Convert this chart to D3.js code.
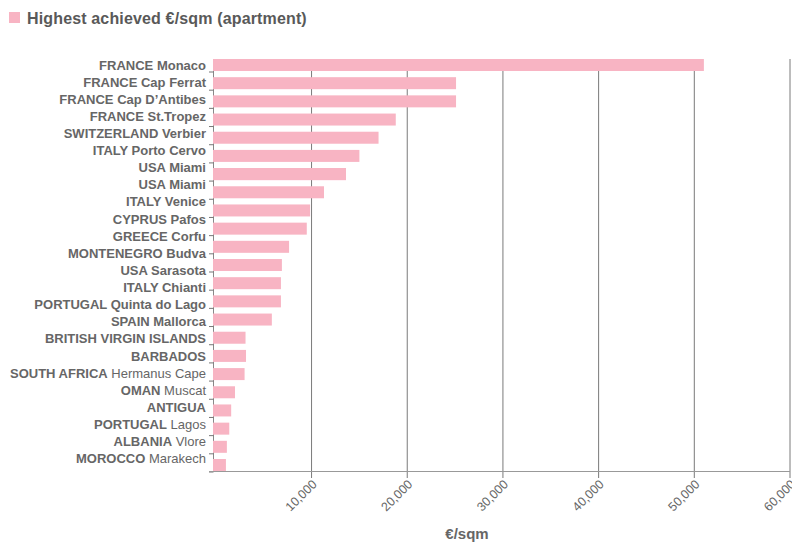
<!DOCTYPE html>
<html>
<head>
<meta charset="utf-8">
<script src="https://cdn.jsdelivr.net/npm/d3@7/dist/d3.min.js"></script>
<style>
  html, body { margin: 0; padding: 0; background: #fff; }
  svg { display: block; font-family: "Helvetica Neue", Helvetica, Arial, "Liberation Sans", sans-serif; }
</style>
</head>
<body>
<svg id="chart" width="792" height="542"></svg>
<script>
// ---- data ----
const countries = ["FRANCE", "FRANCE", "FRANCE", "FRANCE", "SWITZERLAND", "ITALY", "USA", "USA", "ITALY", "CYPRUS", "GREECE", "MONTENEGRO", "USA", "ITALY", "PORTUGAL", "SPAIN", "BRITISH VIRGIN ISLANDS", "BARBADOS", "SOUTH AFRICA", "OMAN", "ANTIGUA", "PORTUGAL", "ALBANIA", "MOROCCO"];
const places = ["Monaco", "Cap Ferrat", "Cap D\u2019Antibes", "St.Tropez", "Verbier", "Porto Cervo", "Miami", "Miami", "Venice", "Pafos", "Corfu", "Budva", "Sarasota", "Chianti", "Quinta do Lago", "Mallorca", "", "", "Hermanus Cape", "Muscat", "", "Lagos", "Vlore", "Marakech"];
const placeBold = [true, true, true, true, true, true, true, true, true, true, true, true, true, true, true, true, true, true, false, false, false, false, false, false];
const values = [51000, 25100, 25100, 18800, 17000, 15000, 13600, 13600, 11300, 9850, 9500, 7650, 6900, 6800, 6800, 5850, 3100, 3150, 3000, 2000, 1600, 1400, 1150, 1050];
const xTicks = [10000, 20000, 30000, 40000, 50000, 60000];
const seriesName = "Highest achieved \u20ac/sqm (apartment)";
const xTitle = "\u20ac/sqm";

// ---- setup ----
const names = countries.map((c, i) => places[i] ? c + " " + places[i] : c);
const data = names.map((n, i) => ({ name: n, country: countries[i], place: places[i], bold: placeBold[i], value: values[i], idx: i }));

const svg = d3.select("#chart");
const pink = "#f8b4c3";
const textGray = "#666";

const x = d3.scaleLinear().domain([-300, 60000]).range([213, 790]);
// band scale: duplicated names collapse into one band (as in the original)
const y = d3.scaleBand().domain(names).range([59, 471]).paddingInner(0.34).paddingOuter(0);
// labels are laid out on their own evenly spaced scale
const yLabel = d3.scalePoint().domain(d3.range(names.length)).range([69.5, 463.3]);

// legend
svg.append("rect").attr("x", 9).attr("y", 12).attr("width", 11).attr("height", 11).attr("fill", pink);
svg.append("text").attr("x", 27).attr("y", 23.5)
  .attr("font-size", 16).attr("font-weight", "bold").attr("fill", "#595959")
  .attr("letter-spacing", "0.15px")
  .text(seriesName);

// gridlines (x ticks)
const grid = svg.append("g");
grid.selectAll("line").data(xTicks).join("line")
  .attr("x1", d => x(d)).attr("x2", d => x(d))
  .attr("y1", 59).attr("y2", 478)
  .attr("stroke", "#7a7a7a").attr("stroke-width", 1);

// y domain line (visible only between bars)
svg.append("line").attr("x1", 213.5).attr("x2", 213.5).attr("y1", 59).attr("y2", 471)
  .attr("stroke", "#888").attr("stroke-width", 1);

// y ticks at the bottom of each band
svg.append("g").selectAll("line").data(y.domain()).join("line")
  .attr("x1", 209).attr("x2", 213.5)
  .attr("y1", d => y(d) + y.bandwidth() + 1).attr("y2", d => y(d) + y.bandwidth() + 1)
  .attr("stroke", "#777").attr("stroke-width", 1);

// bars
svg.append("g").selectAll("rect").data(data).join("rect")
  .attr("x", x(-300))
  .attr("y", d => y(d.name))
  .attr("width", d => x(d.value) - x(-300))
  .attr("height", y.bandwidth())
  .attr("fill", pink);

// x axis line
svg.append("line").attr("x1", 209).attr("x2", 790).attr("y1", 471.5).attr("y2", 471.5)
  .attr("stroke", "#999").attr("stroke-width", 1);

// x tick labels
svg.append("g").selectAll("text").data(xTicks).join("text")
  .attr("transform", d => `translate(${x(d) + 6},${485}) rotate(-45)`)
  .attr("text-anchor", "end")
  .attr("font-size", 12.5).attr("fill", textGray)
  .text(d => d3.format(",")(d));

// x title
svg.append("text").attr("x", 467).attr("y", 539).attr("text-anchor", "middle")
  .attr("font-size", 15).attr("font-weight", "bold").attr("fill", textGray)
  .text(xTitle);

// y labels
const lbl = svg.append("g").selectAll("text").data(data).join("text")
  .attr("x", 206).attr("y", d => yLabel(d.idx))
  .attr("text-anchor", "end").attr("font-size", 13).attr("fill", textGray);
lbl.append("tspan").attr("font-weight", "bold").text(d => d.country);
lbl.filter(d => d.place).append("tspan")
  .attr("font-weight", d => d.bold ? "bold" : "normal")
  .text(d => " " + d.place);
</script>
</body>
</html>
